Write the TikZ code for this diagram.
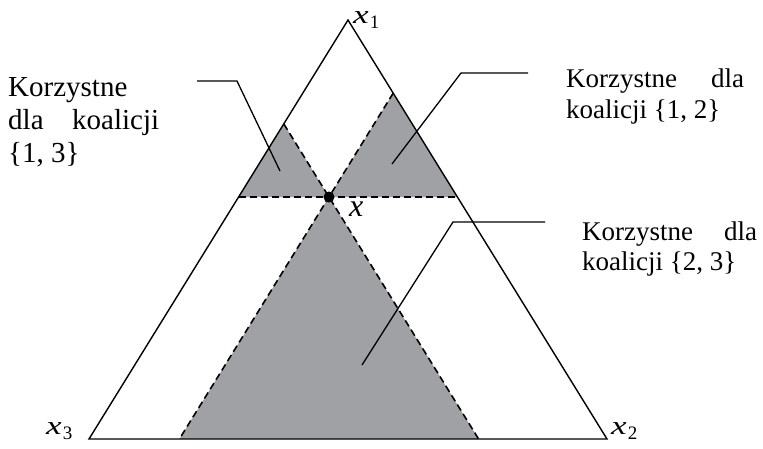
\documentclass[tikz,border=0pt]{standalone}
\usepackage{fontspec}
\setmainfont{Liberation Serif}
\definecolor{regiongray}{RGB}{160,161,165}
\newcommand{\vlab}[1]{\scalebox{1.35}[1]{\itshape x}\kern1pt\raisebox{-5pt}{\fontsize{19}{19}\selectfont #1}}
\tikzset{
  edge/.style={line width=1.4pt, line join=miter},
  bound/.style={dash pattern=on 7pt off 4pt, line width=1.6pt},
  region/.style={fill=regiongray},
  leader/.style={line width=1.3pt},
  lbl/.style={inner sep=0pt, anchor=base west, font=\fontsize{29}{33}\selectfont},
  lblr/.style={inner sep=0pt, anchor=base west, font=\fontsize{27}{31}\selectfont},
  vtx/.style={inner sep=0pt, anchor=base west, font=\fontsize{26}{30}\selectfont},
  ptlbl/.style={inner sep=0pt, anchor=base west, font=\fontsize{32}{36}\selectfont\itshape}
}
\begin{document}
\begin{tikzpicture}[x=1pt,y=-1pt]
\useasboundingbox (0,0) rectangle (763,448);

% simplex corners and the imputation x
\coordinate (A1) at (348,20);
\coordinate (A3) at (89,439);
\coordinate (A2) at (607,439);
\coordinate (X)  at (329,197);

% lines through x parallel to the sides
\coordinate (L)   at (238.6,197);
\coordinate (R)   at (457.4,197);
\coordinate (P13) at (283.8,123.9);
\coordinate (P12) at (393.2,93.1);
\coordinate (B3)  at (179.4,439);
\coordinate (B2)  at (478.6,439);

% dominated regions
\fill[region] (L) -- (P13) -- (X) -- cycle;
\fill[region] (X) -- (P12) -- (R) -- cycle;
\fill[region] (X) -- (B3) -- (B2) -- cycle;

% boundaries of the regions
\draw[bound] (L) -- (R);
\draw[bound] (P13) -- (B2);
\draw[bound] (P12) -- (B3);

% simplex
\draw[edge] (A1) -- (A2) -- (A3) -- cycle;

% point x
\fill (X) circle (5.5);
\node[ptlbl] (xlab) at (349,216) {x};

% vertex labels
\node[vtx] (l1) at (353,23) {\vlab{1}};
\node[vtx] (l3) at (46,434) {\vlab{3}};
\node[vtx] (l2) at (611,434) {\vlab{2}};

% region descriptions
\node[lbl] (t13a) at (8,96)  {Korzystne};
\node[lbl] (t13b) at (8,129) {\makebox[151pt][s]{dla koalicji}};
\node[lbl] (t13c) at (8,162) {\{1, 3\}};

\node[lblr] (t12a) at (566,87)  {\makebox[178pt][s]{Korzystne dla}};
\node[lblr] (t12b) at (566,118) {koalicji \{1, 2\}};

\node[lblr] (t23a) at (582,240) {\makebox[175pt][s]{Korzystne dla}};
\node[lblr] (t23b) at (582,270) {koalicji \{2, 3\}};

% leader lines
\coordinate (k13a) at (197,81);
\coordinate (k13b) at (237,81);
\coordinate (k13c) at (280,171);
\coordinate (k12a) at (528,73);
\coordinate (k12b) at (461,73);
\coordinate (k12c) at (392,164);
\coordinate (k23a) at (545,222);
\coordinate (k23b) at (453,222);
\coordinate (k23c) at (362,365);
\draw[leader] (k13a) -- (k13b) -- (k13c);
\draw[leader] (k12a) -- (k12b) -- (k12c);
\draw[leader] (k23a) -- (k23b) -- (k23c);
\end{tikzpicture}
\end{document}
